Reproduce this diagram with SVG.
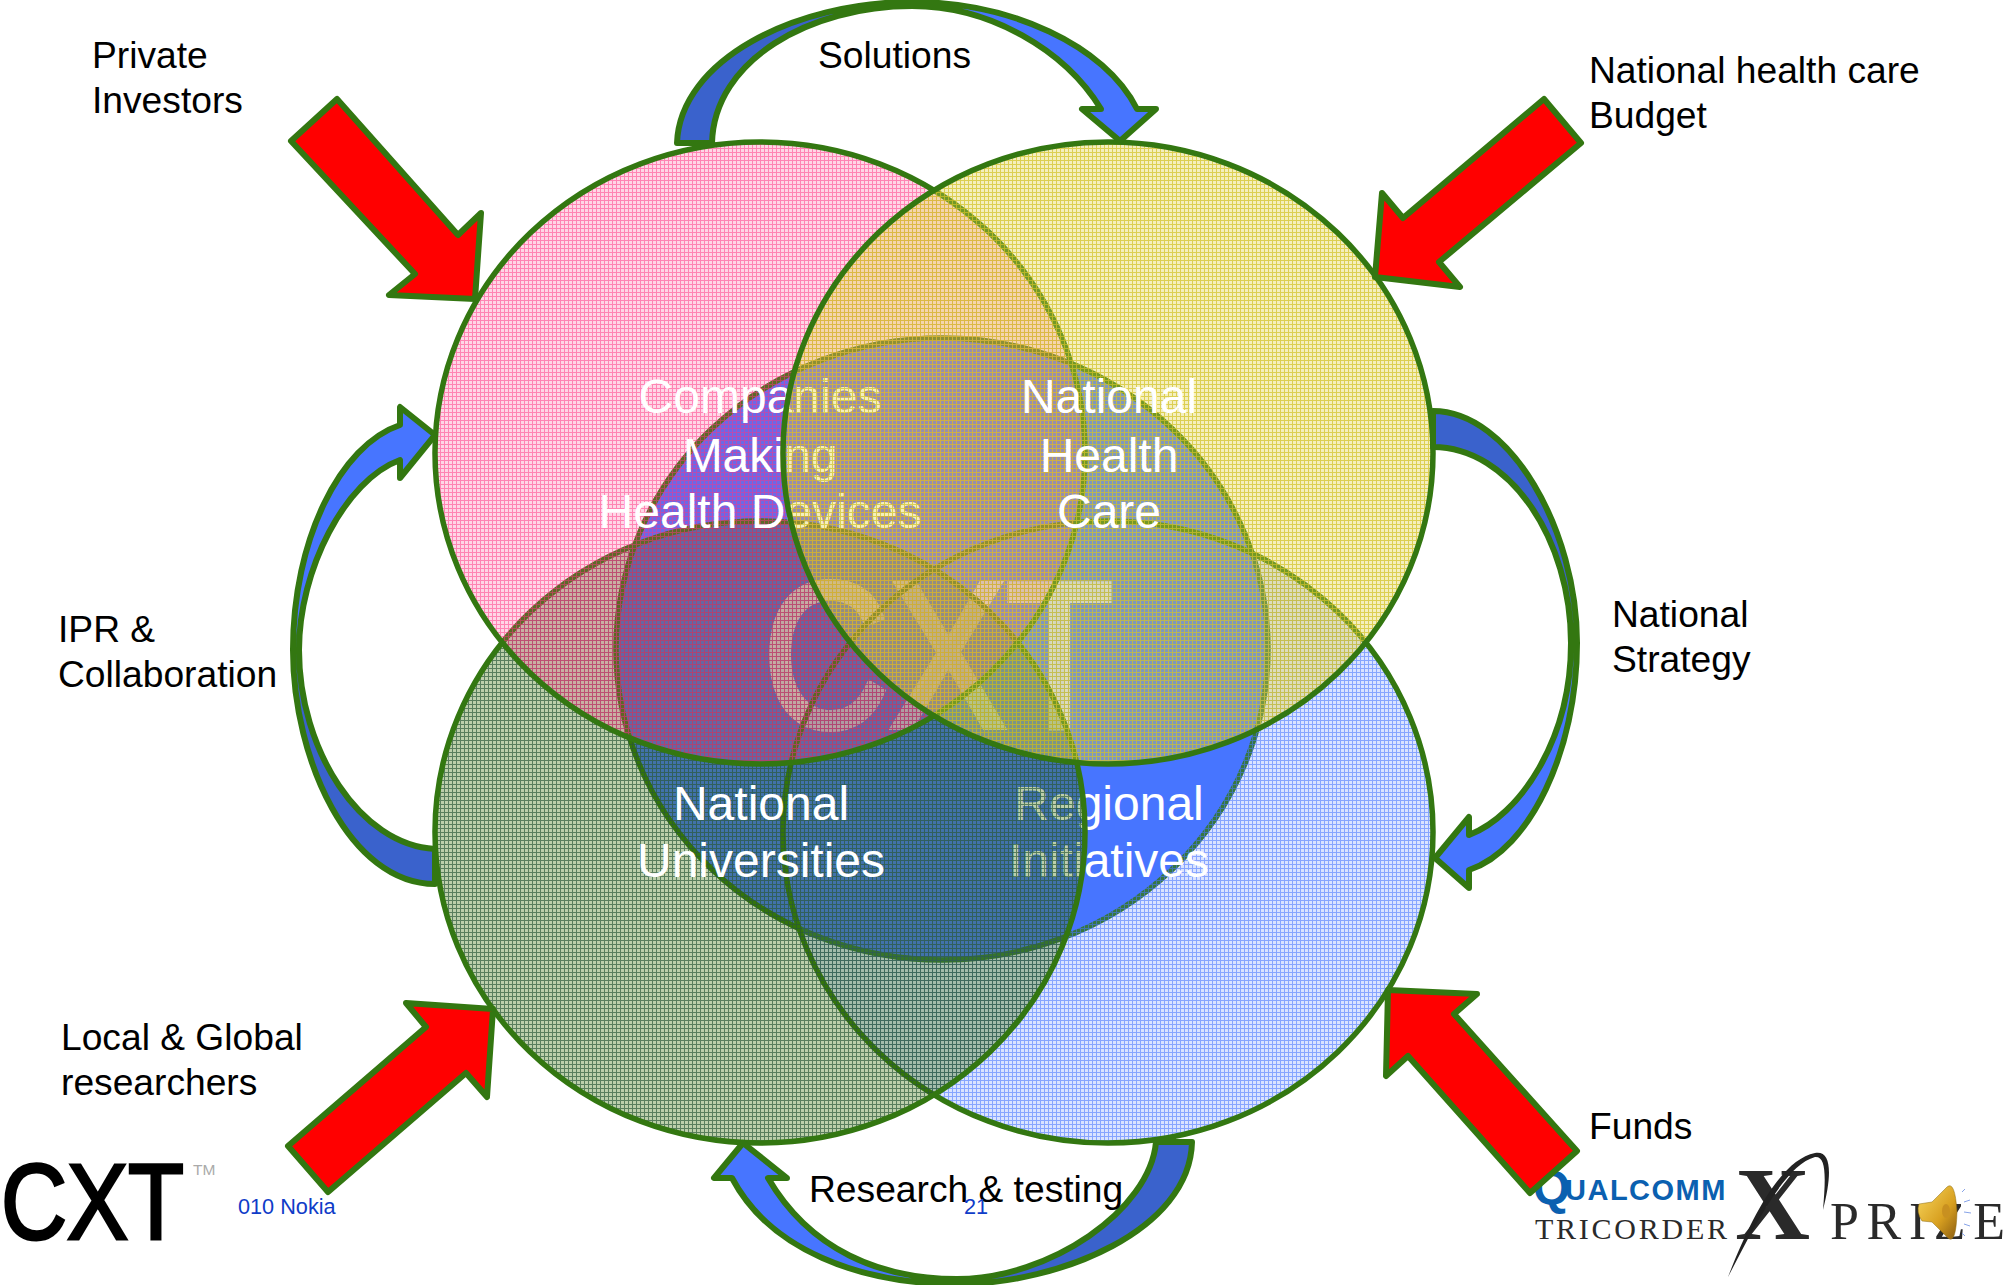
<svg xmlns="http://www.w3.org/2000/svg" width="2008" height="1285" viewBox="0 0 2008 1285">
<style>
text{font-family:"Liberation Sans",Arial,sans-serif}
.ring{stroke:#337711;stroke-width:5.5}
.lab{font-size:37.2px;fill:#000}
.inner{font-size:48px;fill:#fff;text-anchor:middle}
.foot{font-size:21.7px;fill:#0f3cc8}
.red{fill:#f00;stroke:#337711;stroke-width:6;stroke-linejoin:round}
.line{fill:none;stroke:#337711;stroke-width:6;stroke-linejoin:round}
.light{fill:#4775ff}
.dark{fill:#3a62cc}
.serif{font-family:"Liberation Serif","Times New Roman",serif;fill:#2a2a2a}
</style>
<defs>
<pattern id="pPink" patternUnits="userSpaceOnUse" width="4" height="4">
<path d="M1,1H4V4H1Z" fill="#ff3281" fill-opacity=".2"/><path d="M0,0H4V1H1V4H0Z" fill="#ff3281" fill-opacity=".6"/>
</pattern>
<pattern id="pYellow" patternUnits="userSpaceOnUse" width="4" height="4">
<path d="M1,1H4V4H1Z" fill="#e0d44a" fill-opacity=".36"/><path d="M0,0H4V1H1V4H0Z" fill="#d4c42c" fill-opacity=".82"/>
</pattern>
<pattern id="pGreen" patternUnits="userSpaceOnUse" width="4" height="4">
<path d="M1,1H4V4H1Z" fill="#336c00" fill-opacity=".33"/><path d="M0,0H4V1H1V4H0Z" fill="#2a5a30" fill-opacity=".78"/>
</pattern>
<pattern id="pBlue" patternUnits="userSpaceOnUse" width="4" height="4">
<path d="M1,1H4V4H1Z" fill="#4775ff" fill-opacity=".2"/><path d="M0,0H4V1H1V4H0Z" fill="#4775ff" fill-opacity=".65"/>
</pattern>
<linearGradient id="gold" x1="0" y1="0" x2="1" y2="1">
<stop offset="0" stop-color="#f8d860"/><stop offset=".6" stop-color="#d8a020"/><stop offset="1" stop-color="#8a5c10"/>
</linearGradient>
</defs>
<rect width="2008" height="1285" fill="#fff"/>

<g id="node-core">
<ellipse class="ring" cx="942" cy="649" rx="326" ry="311" fill="#4775ff"/>
<text id="logo-watermark" x="763" y="727" font-size="208" textLength="350" lengthAdjust="spacingAndGlyphs" fill="#fff" fill-opacity=".9" stroke="#fff" stroke-opacity=".9" stroke-width="6">CXT</text>
</g>
<g id="node-regional">
<ellipse class="ring" cx="1108" cy="832" rx="325" ry="311" fill="url(#pBlue)"/>
<text class="inner" x="1109" y="820">Regional</text>
<text class="inner" x="1109" y="877">Initiatives</text>
</g>
<g id="node-universities">
<ellipse class="ring" cx="760" cy="832" rx="325" ry="311" fill="url(#pGreen)"/>
</g>
<g id="node-companies">
<ellipse class="ring" cx="760" cy="453" rx="325" ry="311" fill="url(#pPink)"/>
<text class="inner" x="760" y="413">Companies</text>
<text class="inner" x="760" y="472">Making</text>
<text class="inner" x="760" y="528">Health Devices</text>
</g>
<g id="node-healthcare">
<ellipse class="ring" cx="1108" cy="453" rx="325" ry="311" fill="url(#pYellow)"/>
</g>
<g id="node-labels-top">
<text class="inner" x="761" y="820">National</text>
<text class="inner" x="761" y="877">Universities</text>
<text class="inner" x="1109" y="413">National</text>
<text class="inner" x="1109" y="472">Health</text>
<text class="inner" x="1109" y="528">Care</text>
</g>

<g id="logo-cxt">
<text x="1" y="1239" font-size="108" textLength="183" lengthAdjust="spacingAndGlyphs" fill="#000" stroke="#000" stroke-width="3">CXT</text>
<text x="193" y="1175" font-size="15.5" fill="#aaa">TM</text>
</g>
<g id="logo-xprize">
<text y="1200" fill="#0b60b0" font-weight="bold" font-size="29"><tspan x="1533" y="1204" font-size="48">Q</tspan><tspan x="1565" y="1200" letter-spacing="1.5">UALCOMM</tspan></text>
<text class="serif" x="1535" y="1239" font-size="30" textLength="192">TRICORDER</text>
<text class="serif" x="1735" y="1239" font-size="104" font-weight="bold" fill="#222">X</text>
<path d="M1728,1277C1750,1220 1780,1160 1815,1153C1832,1150 1832,1175 1823,1210C1826,1175 1826,1156 1815,1157C1785,1165 1755,1225 1728,1277Z" fill="#222"/>
<text class="serif" x="1830" y="1239" font-size="52" textLength="175">PRIZE</text>
<g id="speaker">
<path d="M1919,1204L1932,1202L1947,1187Q1955,1180 1957,1212Q1956,1245 1948,1238L1932,1222L1922,1221Q1916,1212 1919,1204Z" fill="url(#gold)" stroke="#8a6a10" stroke-width=".5"/>
<ellipse cx="1946" cy="1211" rx="4" ry="7" fill="#c89020"/>
<path d="M1962,1192l3,-3M1964,1202l6,-2M1964,1212l7,1M1964,1224l6,2M1962,1233l3,3" stroke="#88a4e8" stroke-width="1" fill="none"/>
</g>
</g>

<g id="connectors">
<path class="dark" d="M677,143C680,60 795,2 912,2L912,6C810,6 714,60 712,143Z"/>
<path class="light" d="M912,2C1010,2 1105,45 1137,109L1156,109L1120,141L1082,109L1101,109C1065,50 990,6 912,6Z"/>
<path class="line" d="M677,143C680,60 795,2 912,2C1010,2 1105,45 1137,109L1156,109L1120,141L1082,109L1101,109C1065,50 990,6 912,6C810,6 714,60 712,143Z"/>

<path class="dark" d="M1433,411C1510,411 1577,530 1577,643L1571,643C1571,540 1510,447 1433,447Z"/>
<path class="light" d="M1577,643C1577,750 1530,850 1469,870L1469,888L1435,858L1469,817L1469,835C1520,815 1571,740 1571,643Z"/>
<path class="line" d="M1433,411C1510,411 1577,530 1577,643C1577,750 1530,850 1469,870L1469,888L1435,858L1469,817L1469,835C1520,815 1571,740 1571,643C1571,540 1510,447 1433,447Z"/>

<path class="light" d="M400,425L400,407L435,435L400,478L400,460C345,480 299,570 299,650L293,650C293,540 340,445 400,425Z"/>
<path class="dark" d="M293,650C293,760 350,884 435,884L435,849C360,845 299,750 299,650Z"/>
<path class="line" d="M435,849C360,845 299,750 299,650C299,570 345,480 400,460L400,478L435,435L400,407L400,425C340,445 293,540 293,650C293,760 350,884 435,884Z"/>

<path class="light" d="M732,1178L714,1178L743,1143L787,1178L768,1178C810,1250 880,1279 957,1279L957,1284C860,1284 770,1250 732,1178Z"/>
<path class="dark" d="M957,1284C1060,1284 1190,1230 1192,1142L1156,1142C1150,1210 1050,1279 957,1279Z"/>
<path class="line" d="M1156,1142C1150,1210 1050,1279 957,1279C880,1279 810,1250 768,1178L787,1178L743,1143L714,1178L732,1178C770,1250 860,1284 957,1284C1060,1284 1190,1230 1192,1142Z"/>

<polygon class="red" points="337,99 291,141 415,274 389,295 475,299 481,213 458,235"/>
<polygon class="red" points="1544,99 1581,143 1439,262 1460,287 1375,277 1382,193 1403,218"/>
<polygon class="red" points="288,1146 328,1192 466,1073 487,1097 493,1009 406,1003 426,1027"/>
<polygon class="red" points="1577,1151 1530,1193 1408,1056 1386,1076 1388,990 1477,994 1454,1014"/>
</g>

<g id="labels">
<text class="lab" x="92" y="68">Private</text>
<text class="lab" x="92" y="113">Investors</text>
<text class="lab" x="818" y="68">Solutions</text>
<text class="lab" x="1589" y="83">National health care</text>
<text class="lab" x="1589" y="128">Budget</text>
<text class="lab" x="1612" y="627">National</text>
<text class="lab" x="1612" y="672">Strategy</text>
<text class="lab" x="58" y="642">IPR &amp;</text>
<text class="lab" x="58" y="687">Collaboration</text>
<text class="lab" x="61" y="1050">Local &amp; Global</text>
<text class="lab" x="61" y="1095">researchers</text>
<text class="lab" x="1589" y="1139">Funds</text>
<text class="lab" x="809" y="1202">Research &amp; testing</text>
<text class="foot" x="238" y="1214">010 Nokia</text>
<text class="foot" x="964" y="1214">21</text>
</g>
</svg>
